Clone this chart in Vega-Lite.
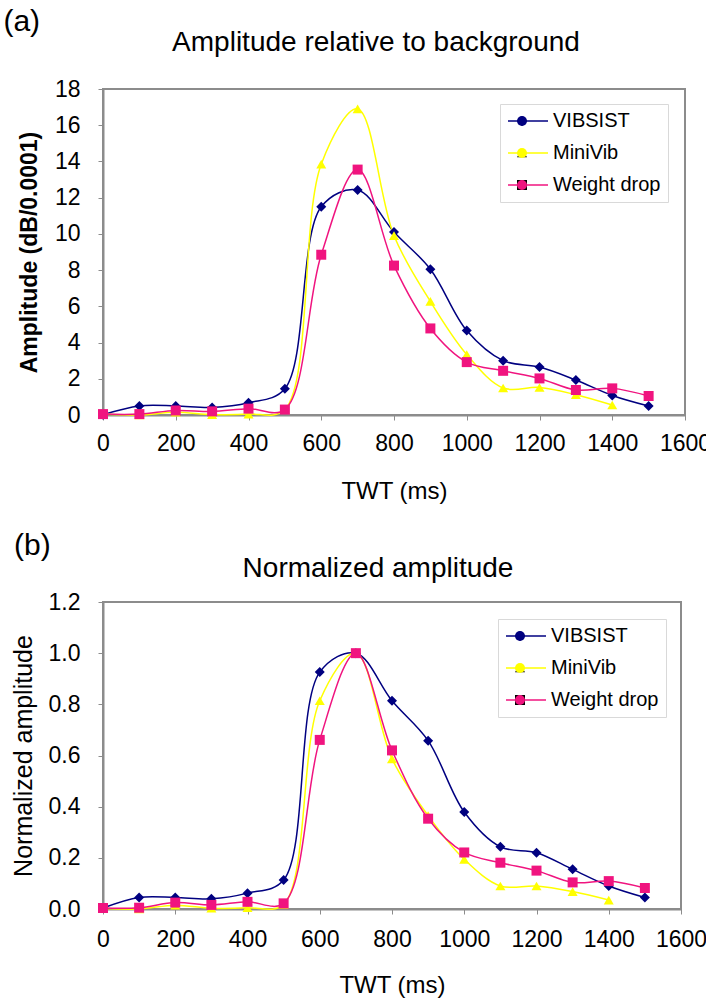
{
  "$schema": "https://vega.github.io/schema/vega-lite/v6.json",
  "background": "white",
  "padding": {"left": 3, "top": 7, "right": 0, "bottom": 0},
  "config": {
    "font": "Liberation Sans",
    "view": {"stroke": "#8c8c8c", "strokeWidth": 2},
    "axis": {"grid": false, "domainColor": "#8c8c8c", "domainWidth": 2, "tickColor": "#8c8c8c", "tickSize": 5, "labelFont": "Liberation Sans", "labelFontSize": 23, "labelColor": "black", "titleFont": "Liberation Sans", "titleFontSize": 24, "titleFontWeight": "normal", "titleColor": "black", "labelFlush": false, "labelOverlap": false},
    "title": {"font": "Liberation Sans", "fontWeight": "normal", "color": "black"},
    "legend": {"labelFont": "Liberation Sans", "labelFontSize": 20, "labelColor": "black", "symbolOpacity": 1},
    "concat": {"spacing": 27}
  },
  "datasets": {
    "amp": [
      {"t": 0, "series": "VIBSIST", "v": 0.02},
      {"t": 100, "series": "VIBSIST", "v": 0.5},
      {"t": 200, "series": "VIBSIST", "v": 0.5},
      {"t": 300, "series": "VIBSIST", "v": 0.42},
      {"t": 400, "series": "VIBSIST", "v": 0.68},
      {"t": 500, "series": "VIBSIST", "v": 1.45},
      {"t": 600, "series": "VIBSIST", "v": 11.5},
      {"t": 700, "series": "VIBSIST", "v": 12.42},
      {"t": 800, "series": "VIBSIST", "v": 10.1},
      {"t": 900, "series": "VIBSIST", "v": 8.05},
      {"t": 1000, "series": "VIBSIST", "v": 4.66},
      {"t": 1100, "series": "VIBSIST", "v": 3.0},
      {"t": 1200, "series": "VIBSIST", "v": 2.65},
      {"t": 1300, "series": "VIBSIST", "v": 1.93},
      {"t": 1400, "series": "VIBSIST", "v": 1.08},
      {"t": 1500, "series": "VIBSIST", "v": 0.5},
      {"t": 0, "series": "MiniVib", "v": 0.05},
      {"t": 100, "series": "MiniVib", "v": 0.0},
      {"t": 200, "series": "MiniVib", "v": 0.15},
      {"t": 300, "series": "MiniVib", "v": 0.02},
      {"t": 400, "series": "MiniVib", "v": 0.05},
      {"t": 500, "series": "MiniVib", "v": 0.3},
      {"t": 600, "series": "MiniVib", "v": 13.85},
      {"t": 700, "series": "MiniVib", "v": 16.9},
      {"t": 800, "series": "MiniVib", "v": 9.9},
      {"t": 900, "series": "MiniVib", "v": 6.27},
      {"t": 1000, "series": "MiniVib", "v": 3.34},
      {"t": 1100, "series": "MiniVib", "v": 1.49},
      {"t": 1200, "series": "MiniVib", "v": 1.52},
      {"t": 1300, "series": "MiniVib", "v": 1.12},
      {"t": 1400, "series": "MiniVib", "v": 0.55},
      {"t": 0, "series": "Weight drop", "v": 0.05},
      {"t": 100, "series": "Weight drop", "v": 0.05},
      {"t": 200, "series": "Weight drop", "v": 0.25},
      {"t": 300, "series": "Weight drop", "v": 0.2},
      {"t": 400, "series": "Weight drop", "v": 0.35},
      {"t": 500, "series": "Weight drop", "v": 0.3},
      {"t": 600, "series": "Weight drop", "v": 8.85},
      {"t": 700, "series": "Weight drop", "v": 13.55},
      {"t": 800, "series": "Weight drop", "v": 8.25},
      {"t": 900, "series": "Weight drop", "v": 4.78},
      {"t": 1000, "series": "Weight drop", "v": 2.92},
      {"t": 1100, "series": "Weight drop", "v": 2.44},
      {"t": 1200, "series": "Weight drop", "v": 2.02},
      {"t": 1300, "series": "Weight drop", "v": 1.38},
      {"t": 1400, "series": "Weight drop", "v": 1.47},
      {"t": 1500, "series": "Weight drop", "v": 1.05}
    ],
    "norm": [
      {"t": 0, "series": "VIBSIST", "v": 0.004},
      {"t": 100, "series": "VIBSIST", "v": 0.045},
      {"t": 200, "series": "VIBSIST", "v": 0.045},
      {"t": 300, "series": "VIBSIST", "v": 0.04},
      {"t": 400, "series": "VIBSIST", "v": 0.062},
      {"t": 500, "series": "VIBSIST", "v": 0.113},
      {"t": 600, "series": "VIBSIST", "v": 0.926},
      {"t": 700, "series": "VIBSIST", "v": 1.0},
      {"t": 800, "series": "VIBSIST", "v": 0.814},
      {"t": 900, "series": "VIBSIST", "v": 0.658},
      {"t": 1000, "series": "VIBSIST", "v": 0.379},
      {"t": 1100, "series": "VIBSIST", "v": 0.243},
      {"t": 1200, "series": "VIBSIST", "v": 0.22},
      {"t": 1300, "series": "VIBSIST", "v": 0.155},
      {"t": 1400, "series": "VIBSIST", "v": 0.09},
      {"t": 1500, "series": "VIBSIST", "v": 0.045},
      {"t": 0, "series": "MiniVib", "v": 0.003},
      {"t": 100, "series": "MiniVib", "v": 0.0},
      {"t": 200, "series": "MiniVib", "v": 0.015},
      {"t": 300, "series": "MiniVib", "v": 0.003},
      {"t": 400, "series": "MiniVib", "v": 0.005},
      {"t": 500, "series": "MiniVib", "v": 0.018},
      {"t": 600, "series": "MiniVib", "v": 0.814},
      {"t": 700, "series": "MiniVib", "v": 1.0},
      {"t": 800, "series": "MiniVib", "v": 0.587},
      {"t": 900, "series": "MiniVib", "v": 0.365},
      {"t": 1000, "series": "MiniVib", "v": 0.194},
      {"t": 1100, "series": "MiniVib", "v": 0.09},
      {"t": 1200, "series": "MiniVib", "v": 0.09},
      {"t": 1300, "series": "MiniVib", "v": 0.068},
      {"t": 1400, "series": "MiniVib", "v": 0.035},
      {"t": 0, "series": "Weight drop", "v": 0.004},
      {"t": 100, "series": "Weight drop", "v": 0.005},
      {"t": 200, "series": "Weight drop", "v": 0.025},
      {"t": 300, "series": "Weight drop", "v": 0.016},
      {"t": 400, "series": "Weight drop", "v": 0.028},
      {"t": 500, "series": "Weight drop", "v": 0.022},
      {"t": 600, "series": "Weight drop", "v": 0.661},
      {"t": 700, "series": "Weight drop", "v": 1.0},
      {"t": 800, "series": "Weight drop", "v": 0.62},
      {"t": 900, "series": "Weight drop", "v": 0.353},
      {"t": 1000, "series": "Weight drop", "v": 0.221},
      {"t": 1100, "series": "Weight drop", "v": 0.181},
      {"t": 1200, "series": "Weight drop", "v": 0.15},
      {"t": 1300, "series": "Weight drop", "v": 0.104},
      {"t": 1400, "series": "Weight drop", "v": 0.109},
      {"t": 1500, "series": "Weight drop", "v": 0.082}
    ]
  },
  "columns": 1,
  "align": "none",
  "concat": [
    {
      "title": {"text": "(a)", "fontSize": 30, "anchor": "start", "offset": -9, "dx": -14},
      "vconcat": [
        {
          "width": 582,
          "height": 326,
          "data": {"name": "amp"},
          "title": {"text": "Amplitude relative to background", "fontSize": 28, "anchor": "middle", "frame": "group", "dx": -18, "offset": 21},
          "encoding": {
            "x": {"field": "t", "type": "quantitative", "scale": {"domain": [0, 1600], "nice": false}, "axis": {"values": [0, 200, 400, 600, 800, 1000, 1200, 1400, 1600], "format": "d", "title": "TWT (ms)", "labelPadding": 12, "titlePadding": 24}},
            "y": {"field": "v", "type": "quantitative", "scale": {"domain": [0, 18], "nice": false}, "axis": {"values": [0, 2, 4, 6, 8, 10, 12, 14, 16, 18], "title": "Amplitude (dB/0.0001)", "titleFontWeight": "bold", "titleFontSize": 23, "labelPadding": 18, "titlePadding": 13}}
          },
          "layer": [
            {"mark": {"type": "point", "filled": true, "size": 100, "opacity": 0},
             "encoding": {
               "fill": {"field": "series", "type": "nominal", "sort": ["VIBSIST", "MiniVib", "Weight drop"], "scale": {"range": ["#000080", "#FFFF00", "#F0147F"]},
                        "legend": {"orient": "none", "legendX": 409, "legendY": 22, "title": null, "symbolSize": 100, "padding": 0, "rowPadding": 12, "labelExpr": "' '", "labelOpacity": 0, "strokeColor": "transparent", "fillColor": "transparent", "symbolStrokeWidth": 0, "zindex": 2}},
               "shape": {"field": "series", "type": "nominal", "sort": ["VIBSIST", "MiniVib", "Weight drop"], "scale": {"range": ["diamond", "triangle-up", "square"]},
                        "legend": {"orient": "none", "legendX": 409, "legendY": 22, "title": null, "symbolSize": 100, "padding": 0, "rowPadding": 12, "labelExpr": "' '", "labelOpacity": 0, "strokeColor": "transparent", "fillColor": "transparent", "symbolStrokeWidth": 0, "zindex": 2}}}},
            {"mark": {"type": "line", "interpolate": "catmull-rom", "strokeWidth": 1.5, "clip": false},
             "encoding": {"stroke": {"field": "series", "type": "nominal", "scale": {"domain": ["VIBSIST", "MiniVib", "Weight drop"], "range": ["#000080", "#FFFF00", "#F0147F"]},
                          "legend": {"orient": "none", "legendX": 397, "legendY": 15, "title": null, "symbolType": "M-4,0L4,0", "symbolSize": 100, "symbolOffset": 11, "labelOffset": 15, "padding": 7, "rowPadding": 12, "strokeColor": "#d9d9d9", "fillColor": "white", "symbolStrokeWidth": 1.5, "zindex": 1}}}},
            {"mark": {"type": "point", "filled": true, "size": 100, "opacity": 1},
             "encoding": {
               "fill": {"field": "series", "type": "nominal", "sort": ["VIBSIST", "MiniVib", "Weight drop"], "legend": null},
               "shape": {"field": "series", "type": "nominal", "sort": ["VIBSIST", "MiniVib", "Weight drop"], "legend": null}}}
          ]
        }
      ]
    },
    {
      "title": {"text": "(b)", "fontSize": 30, "anchor": "start", "offset": -7, "dx": 4},
      "vconcat": [
        {
          "width": 578,
          "height": 307,
          "data": {"name": "norm"},
          "title": {"text": "Normalized amplitude", "fontSize": 28, "anchor": "middle", "frame": "group", "dx": -14, "offset": 8},
          "encoding": {
            "x": {"field": "t", "type": "quantitative", "scale": {"domain": [0, 1600], "nice": false}, "axis": {"values": [0, 200, 400, 600, 800, 1000, 1200, 1400, 1600], "format": "d", "title": "TWT (ms)", "labelPadding": 14, "titlePadding": 22}},
            "y": {"field": "v", "type": "quantitative", "scale": {"domain": [0, 1.2], "nice": false}, "axis": {"values": [0, 0.2, 0.4, 0.6, 0.8, 1.0, 1.2], "format": ".1f", "title": "Normalized amplitude", "titleFontSize": 25, "labelPadding": 18, "titlePadding": 12}}
          },
          "layer": [
            {"mark": {"type": "point", "filled": true, "size": 100, "opacity": 0},
             "encoding": {
               "fill": {"field": "series", "type": "nominal", "sort": ["VIBSIST", "MiniVib", "Weight drop"], "scale": {"range": ["#000080", "#FFFF00", "#F0147F"]},
                        "legend": {"orient": "none", "legendX": 407, "legendY": 24, "title": null, "symbolSize": 100, "padding": 0, "rowPadding": 12, "labelExpr": "' '", "labelOpacity": 0, "strokeColor": "transparent", "fillColor": "transparent", "symbolStrokeWidth": 0, "zindex": 2}},
               "shape": {"field": "series", "type": "nominal", "sort": ["VIBSIST", "MiniVib", "Weight drop"], "scale": {"range": ["diamond", "triangle-up", "square"]},
                        "legend": {"orient": "none", "legendX": 407, "legendY": 24, "title": null, "symbolSize": 100, "padding": 0, "rowPadding": 12, "labelExpr": "' '", "labelOpacity": 0, "strokeColor": "transparent", "fillColor": "transparent", "symbolStrokeWidth": 0, "zindex": 2}}}},
            {"mark": {"type": "line", "interpolate": "catmull-rom", "strokeWidth": 1.5, "clip": false},
             "encoding": {"stroke": {"field": "series", "type": "nominal", "scale": {"domain": ["VIBSIST", "MiniVib", "Weight drop"], "range": ["#000080", "#FFFF00", "#F0147F"]},
                          "legend": {"orient": "none", "legendX": 395, "legendY": 17, "title": null, "symbolType": "M-4,0L4,0", "symbolSize": 100, "symbolOffset": 11, "labelOffset": 15, "padding": 7, "rowPadding": 12, "strokeColor": "#d9d9d9", "fillColor": "white", "symbolStrokeWidth": 1.5, "zindex": 1}}}},
            {"mark": {"type": "point", "filled": true, "size": 100, "opacity": 1},
             "encoding": {
               "fill": {"field": "series", "type": "nominal", "sort": ["VIBSIST", "MiniVib", "Weight drop"], "legend": null},
               "shape": {"field": "series", "type": "nominal", "sort": ["VIBSIST", "MiniVib", "Weight drop"], "legend": null}}}
          ]
        }
      ]
    }
  ],
  "resolve": {"scale": {"shape": "independent", "fill": "independent", "stroke": "independent"}, "legend": {"shape": "independent", "fill": "independent", "stroke": "independent"}}
}
